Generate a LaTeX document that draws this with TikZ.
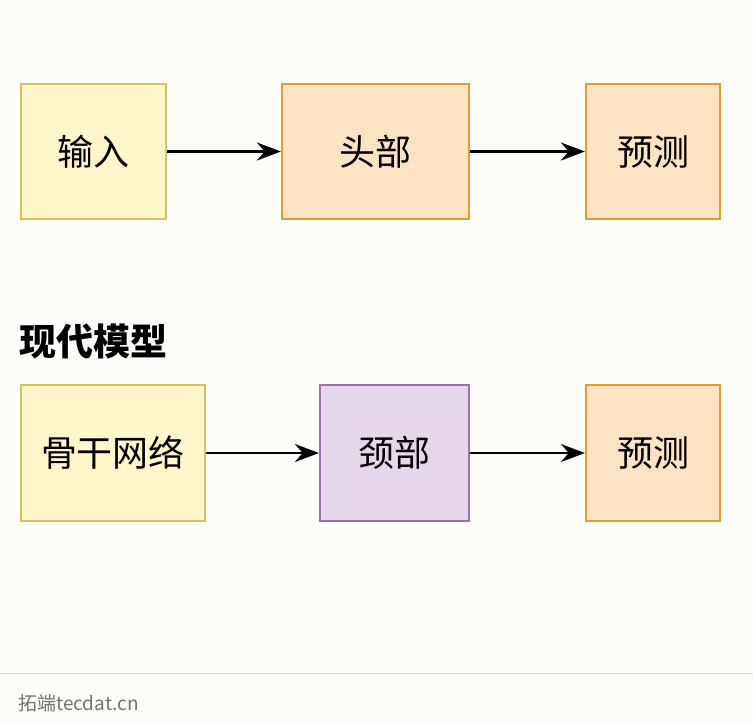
\documentclass[tikz,border=0pt]{standalone}
\usepackage{fontspec}
\setmainfont{Noto Sans CJK SC}
\usetikzlibrary{arrows.meta}
\definecolor{bg}{HTML}{FDFCF8}
\definecolor{yf}{HTML}{FFF6C9}\definecolor{yd}{HTML}{D8C060}
\definecolor{of}{HTML}{FDE3C2}\definecolor{od}{HTML}{D9A030}
\definecolor{pf}{HTML}{E6D6EA}\definecolor{pd}{HTML}{9C72AA}
\begin{document}
\begin{tikzpicture}[x=1pt,y=-1pt,
 box/.style={draw, line width=2.2pt, inner sep=0pt, font=\fontsize{36}{40}\selectfont},
 yb/.style={box, fill=yf, draw=yd},
 ob/.style={box, fill=of, draw=od},
 pb/.style={box, fill=pf, draw=pd},
 arr/.style={-{Stealth[length=24pt,width=18pt]}, line width=2.4pt}]
\fill[bg] (0,0) rectangle (753,723);
\useasboundingbox (0,0) rectangle (753,723);
\node[yb, minimum width=145, minimum height=135] (a1) at (93.5,151.5) {输入};
\node[ob, minimum width=187, minimum height=135] (a2) at (375.5,151.5) {头部};
\node[ob, minimum width=134, minimum height=135] (a3) at (653,151.5) {预测};
\draw[arr] (a1) -- (a2);
\draw[arr] (a2) -- (a3);
\node[anchor=west, font=\fontsize{37}{40}\selectfont\bfseries, inner sep=0] (t) at (19,341) {现代模型};
\node[yb, minimum width=184, minimum height=136] (b1) at (113,453) {骨干网络};
\node[pb, minimum width=149, minimum height=136] (b2) at (394.5,453) {颈部};
\node[ob, minimum width=134, minimum height=136] (b3) at (653,453) {预测};
\draw[arr] (b1) -- (b2);
\draw[arr] (b2) -- (b3);
\coordinate (l1) at (0,673); \coordinate (l2) at (753,673);
\draw[black!15, line width=1pt] (l1) -- (l2);
\node[anchor=west, text=black!55, font=\fontsize{19}{22}\selectfont, inner sep=0] (w) at (18,703) {拓端tecdat.cn};
\end{tikzpicture}
\end{document}
